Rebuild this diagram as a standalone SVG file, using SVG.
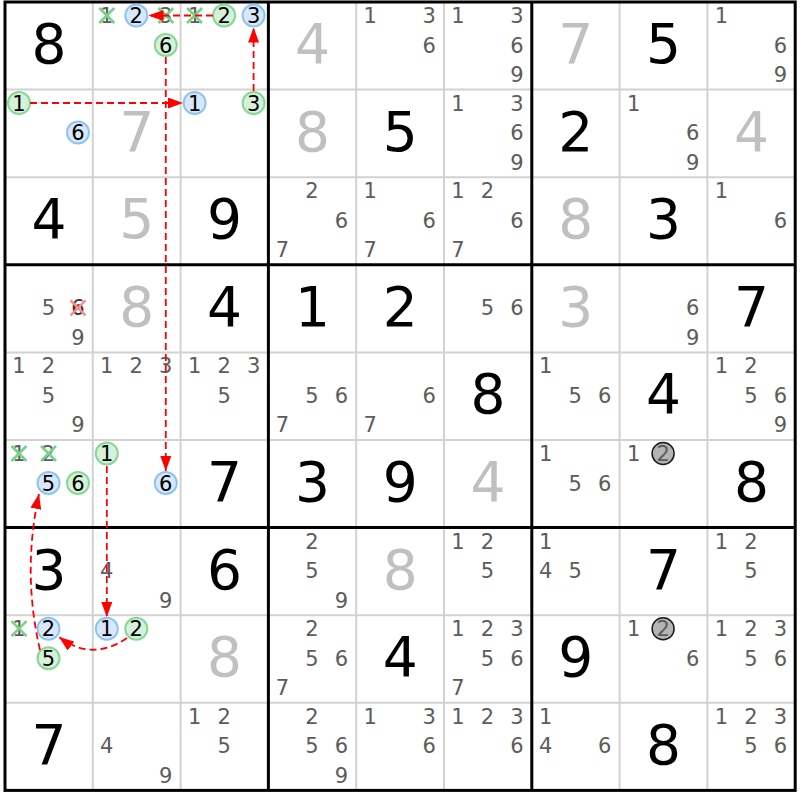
<svg xmlns="http://www.w3.org/2000/svg" xmlns:xlink="http://www.w3.org/1999/xlink" width="800" height="800" viewBox="0 0 800 800">
<style>
text { font-family: "DejaVu Sans", "Liberation Sans", sans-serif; text-anchor: middle; }
.g { font-size: 55px; fill: #000; }
.s { font-size: 55px; fill: #c0c0c0; }
.c { font-size: 21px; fill: #5c5c5c; }
.k { font-size: 21px; fill: #000; }
.cb { fill: #d8e8fa; stroke: #8ec3f2; stroke-width: 2; }
.cg { fill: #d5f1da; stroke: #86d894; stroke-width: 2; }
.cy { fill: #b4b4b4; stroke: #1a1a1a; stroke-width: 1.5; }
.xg { fill: none; stroke: #74d484; stroke-width: 2.5; }
.xr { fill: none; stroke: #ff8a8a; stroke-width: 2.5; }
.thin { stroke: #d2d2d2; stroke-width: 2; }
.thick { stroke: #000; stroke-width: 3; }
.link { fill: none; stroke: #ff0000; stroke-width: 1.8; stroke-dasharray: 7 4; marker-end: url(#ah); }
</style>
<defs>
<marker id="ah" markerUnits="userSpaceOnUse" markerWidth="15" markerHeight="11" refX="15" refY="5.5" orient="auto">
<path d="M0,0 L15,5.5 L0,11 z" fill="#ff0000"/>
</marker>
<path id="xm" d="M-7.5,-7.5 L7.5,7.5 M-7.5,7.5 L7.5,-7.5"/>
</defs>
<rect x="0" y="0" width="800" height="800" fill="#fff"/>
<g id="grid">
<line class="thin" x1="92.8" y1="2" x2="92.8" y2="790.4"/>
<line class="thin" x1="180.6" y1="2" x2="180.6" y2="790.4"/>
<line class="thin" x1="356.2" y1="2" x2="356.2" y2="790.4"/>
<line class="thin" x1="444" y1="2" x2="444" y2="790.4"/>
<line class="thin" x1="619.6" y1="2" x2="619.6" y2="790.4"/>
<line class="thin" x1="707.4" y1="2" x2="707.4" y2="790.4"/>
<line class="thin" x1="5" y1="89.6" x2="795.2" y2="89.6"/>
<line class="thin" x1="5" y1="177.2" x2="795.2" y2="177.2"/>
<line class="thin" x1="5" y1="352.4" x2="795.2" y2="352.4"/>
<line class="thin" x1="5" y1="440" x2="795.2" y2="440"/>
<line class="thin" x1="5" y1="615.2" x2="795.2" y2="615.2"/>
<line class="thin" x1="5" y1="702.8" x2="795.2" y2="702.8"/>
<line class="thick" x1="268.4" y1="2" x2="268.4" y2="790.4"/>
<line class="thick" x1="531.8" y1="2" x2="531.8" y2="790.4"/>
<line class="thick" x1="5" y1="264.8" x2="795.2" y2="264.8"/>
<line class="thick" x1="5" y1="527.6" x2="795.2" y2="527.6"/>
<rect x="5" y="2" width="790.2" height="788.4" fill="none" stroke="#000" stroke-width="3"/>
</g>
<g id="cells">
<!-- Row 1 -->
<g id="r1c1" transform="translate(5,2)"><text class="g" x="44" y="61">8</text></g>
<g id="r1c2" transform="translate(92.8,2)">
<text class="c" x="14" y="21">1</text><use href="#xm" class="xg" x="14" y="13.5"/>
<circle class="cb" cx="43.5" cy="13.5" r="11"/><text class="k" x="43.5" y="21">2</text>
<text class="c" x="73" y="21">3</text><use href="#xm" class="xg" x="73" y="13.5"/>
<circle class="cg" cx="73" cy="43" r="11"/><text class="k" x="73" y="50.5">6</text>
</g>
<g id="r1c3" transform="translate(180.6,2)">
<text class="c" x="14" y="21">1</text><use href="#xm" class="xg" x="14" y="13.5"/>
<circle class="cg" cx="43.5" cy="13.5" r="11"/><text class="k" x="43.5" y="21">2</text>
<circle class="cb" cx="73" cy="13.5" r="11"/><text class="k" x="73" y="21">3</text>
</g>
<g id="r1c4" transform="translate(268.4,2)"><text class="s" x="44" y="61">4</text></g>
<g id="r1c5" transform="translate(356.2,2)"><text class="c" x="14" y="21">1</text><text class="c" x="73" y="21">3</text><text class="c" x="73" y="50.5">6</text></g>
<g id="r1c6" transform="translate(444,2)"><text class="c" x="14" y="21">1</text><text class="c" x="73" y="21">3</text><text class="c" x="73" y="50.5">6</text><text class="c" x="73" y="80">9</text></g>
<g id="r1c7" transform="translate(531.8,2)"><text class="s" x="44" y="61">7</text></g>
<g id="r1c8" transform="translate(619.6,2)"><text class="g" x="44" y="61">5</text></g>
<g id="r1c9" transform="translate(707.4,2)"><text class="c" x="14" y="21">1</text><text class="c" x="73" y="50.5">6</text><text class="c" x="73" y="80">9</text></g>
<!-- Row 2 -->
<g id="r2c1" transform="translate(5,89.6)">
<circle class="cg" cx="14" cy="13.5" r="11"/><text class="k" x="14" y="21">1</text>
<circle class="cb" cx="73" cy="43" r="11"/><text class="k" x="73" y="50.5">6</text>
</g>
<g id="r2c2" transform="translate(92.8,89.6)"><text class="s" x="44" y="61">7</text></g>
<g id="r2c3" transform="translate(180.6,89.6)">
<circle class="cb" cx="14" cy="13.5" r="11"/><text class="k" x="14" y="21">1</text>
<circle class="cg" cx="73" cy="13.5" r="11"/><text class="k" x="73" y="21">3</text>
</g>
<g id="r2c4" transform="translate(268.4,89.6)"><text class="s" x="44" y="61">8</text></g>
<g id="r2c5" transform="translate(356.2,89.6)"><text class="g" x="44" y="61">5</text></g>
<g id="r2c6" transform="translate(444,89.6)"><text class="c" x="14" y="21">1</text><text class="c" x="73" y="21">3</text><text class="c" x="73" y="50.5">6</text><text class="c" x="73" y="80">9</text></g>
<g id="r2c7" transform="translate(531.8,89.6)"><text class="g" x="44" y="61">2</text></g>
<g id="r2c8" transform="translate(619.6,89.6)"><text class="c" x="14" y="21">1</text><text class="c" x="73" y="50.5">6</text><text class="c" x="73" y="80">9</text></g>
<g id="r2c9" transform="translate(707.4,89.6)"><text class="s" x="44" y="61">4</text></g>
<!-- Row 3 -->
<g id="r3c1" transform="translate(5,177.2)"><text class="g" x="44" y="61">4</text></g>
<g id="r3c2" transform="translate(92.8,177.2)"><text class="s" x="44" y="61">5</text></g>
<g id="r3c3" transform="translate(180.6,177.2)"><text class="g" x="44" y="61">9</text></g>
<g id="r3c4" transform="translate(268.4,177.2)"><text class="c" x="43.5" y="21">2</text><text class="c" x="73" y="50.5">6</text><text class="c" x="14" y="80">7</text></g>
<g id="r3c5" transform="translate(356.2,177.2)"><text class="c" x="14" y="21">1</text><text class="c" x="73" y="50.5">6</text><text class="c" x="14" y="80">7</text></g>
<g id="r3c6" transform="translate(444,177.2)"><text class="c" x="14" y="21">1</text><text class="c" x="43.5" y="21">2</text><text class="c" x="73" y="50.5">6</text><text class="c" x="14" y="80">7</text></g>
<g id="r3c7" transform="translate(531.8,177.2)"><text class="s" x="44" y="61">8</text></g>
<g id="r3c8" transform="translate(619.6,177.2)"><text class="g" x="44" y="61">3</text></g>
<g id="r3c9" transform="translate(707.4,177.2)"><text class="c" x="14" y="21">1</text><text class="c" x="73" y="50.5">6</text></g>
<!-- Row 4 -->
<g id="r4c1" transform="translate(5,264.8)">
<text class="c" x="43.5" y="50.5">5</text>
<text class="c" x="73" y="50.5" style="fill:#333">6</text><use href="#xm" class="xr" x="73" y="43"/>
<text class="c" x="73" y="80">9</text>
</g>
<g id="r4c2" transform="translate(92.8,264.8)"><text class="s" x="44" y="61">8</text></g>
<g id="r4c3" transform="translate(180.6,264.8)"><text class="g" x="44" y="61">4</text></g>
<g id="r4c4" transform="translate(268.4,264.8)"><text class="g" x="44" y="61">1</text></g>
<g id="r4c5" transform="translate(356.2,264.8)"><text class="g" x="44" y="61">2</text></g>
<g id="r4c6" transform="translate(444,264.8)"><text class="c" x="43.5" y="50.5">5</text><text class="c" x="73" y="50.5">6</text></g>
<g id="r4c7" transform="translate(531.8,264.8)"><text class="s" x="44" y="61">3</text></g>
<g id="r4c8" transform="translate(619.6,264.8)"><text class="c" x="73" y="50.5">6</text><text class="c" x="73" y="80">9</text></g>
<g id="r4c9" transform="translate(707.4,264.8)"><text class="g" x="44" y="61">7</text></g>
<!-- Row 5 -->
<g id="r5c1" transform="translate(5,352.4)"><text class="c" x="14" y="21">1</text><text class="c" x="43.5" y="21">2</text><text class="c" x="43.5" y="50.5">5</text><text class="c" x="73" y="80">9</text></g>
<g id="r5c2" transform="translate(92.8,352.4)"><text class="c" x="14" y="21">1</text><text class="c" x="43.5" y="21">2</text><text class="c" x="73" y="21">3</text></g>
<g id="r5c3" transform="translate(180.6,352.4)"><text class="c" x="14" y="21">1</text><text class="c" x="43.5" y="21">2</text><text class="c" x="73" y="21">3</text><text class="c" x="43.5" y="50.5">5</text></g>
<g id="r5c4" transform="translate(268.4,352.4)"><text class="c" x="43.5" y="50.5">5</text><text class="c" x="73" y="50.5">6</text><text class="c" x="14" y="80">7</text></g>
<g id="r5c5" transform="translate(356.2,352.4)"><text class="c" x="73" y="50.5">6</text><text class="c" x="14" y="80">7</text></g>
<g id="r5c6" transform="translate(444,352.4)"><text class="g" x="44" y="61">8</text></g>
<g id="r5c7" transform="translate(531.8,352.4)"><text class="c" x="14" y="21">1</text><text class="c" x="43.5" y="50.5">5</text><text class="c" x="73" y="50.5">6</text></g>
<g id="r5c8" transform="translate(619.6,352.4)"><text class="g" x="44" y="61">4</text></g>
<g id="r5c9" transform="translate(707.4,352.4)"><text class="c" x="14" y="21">1</text><text class="c" x="43.5" y="21">2</text><text class="c" x="43.5" y="50.5">5</text><text class="c" x="73" y="50.5">6</text><text class="c" x="73" y="80">9</text></g>
<!-- Row 6 -->
<g id="r6c1" transform="translate(5,440)">
<text class="c" x="14" y="21">1</text><use href="#xm" class="xg" x="14" y="13.5"/>
<text class="c" x="43.5" y="21">2</text><use href="#xm" class="xg" x="43.5" y="13.5"/>
<circle class="cb" cx="43.5" cy="43" r="11"/><text class="k" x="43.5" y="50.5">5</text>
<circle class="cg" cx="73" cy="43" r="11"/><text class="k" x="73" y="50.5">6</text>
</g>
<g id="r6c2" transform="translate(92.8,440)">
<circle class="cg" cx="14" cy="13.5" r="11"/><text class="k" x="14" y="21">1</text>
<circle class="cb" cx="73" cy="43" r="11"/><text class="k" x="73" y="50.5">6</text>
</g>
<g id="r6c3" transform="translate(180.6,440)"><text class="g" x="44" y="61">7</text></g>
<g id="r6c4" transform="translate(268.4,440)"><text class="g" x="44" y="61">3</text></g>
<g id="r6c5" transform="translate(356.2,440)"><text class="g" x="44" y="61">9</text></g>
<g id="r6c6" transform="translate(444,440)"><text class="s" x="44" y="61">4</text></g>
<g id="r6c7" transform="translate(531.8,440)"><text class="c" x="14" y="21">1</text><text class="c" x="43.5" y="50.5">5</text><text class="c" x="73" y="50.5">6</text></g>
<g id="r6c8" transform="translate(619.6,440)"><text class="c" x="14" y="21">1</text><circle class="cy" cx="43.5" cy="13.5" r="11"/><text class="c" x="43.5" y="21">2</text></g>
<g id="r6c9" transform="translate(707.4,440)"><text class="g" x="44" y="61">8</text></g>
<!-- Row 7 -->
<g id="r7c1" transform="translate(5,527.6)"><text class="g" x="44" y="61">3</text></g>
<g id="r7c2" transform="translate(92.8,527.6)"><text class="c" x="14" y="50.5">4</text><text class="c" x="73" y="80">9</text></g>
<g id="r7c3" transform="translate(180.6,527.6)"><text class="g" x="44" y="61">6</text></g>
<g id="r7c4" transform="translate(268.4,527.6)"><text class="c" x="43.5" y="21">2</text><text class="c" x="43.5" y="50.5">5</text><text class="c" x="73" y="80">9</text></g>
<g id="r7c5" transform="translate(356.2,527.6)"><text class="s" x="44" y="61">8</text></g>
<g id="r7c6" transform="translate(444,527.6)"><text class="c" x="14" y="21">1</text><text class="c" x="43.5" y="21">2</text><text class="c" x="43.5" y="50.5">5</text></g>
<g id="r7c7" transform="translate(531.8,527.6)"><text class="c" x="14" y="21">1</text><text class="c" x="14" y="50.5">4</text><text class="c" x="43.5" y="50.5">5</text></g>
<g id="r7c8" transform="translate(619.6,527.6)"><text class="g" x="44" y="61">7</text></g>
<g id="r7c9" transform="translate(707.4,527.6)"><text class="c" x="14" y="21">1</text><text class="c" x="43.5" y="21">2</text><text class="c" x="43.5" y="50.5">5</text></g>
<!-- Row 8 -->
<g id="r8c1" transform="translate(5,615.2)">
<text class="c" x="14" y="21">1</text><use href="#xm" class="xg" x="14" y="13.5"/>
<circle class="cb" cx="43.5" cy="13.5" r="11"/><text class="k" x="43.5" y="21">2</text>
<circle class="cg" cx="43.5" cy="43" r="11"/><text class="k" x="43.5" y="50.5">5</text>
</g>
<g id="r8c2" transform="translate(92.8,615.2)">
<circle class="cb" cx="14" cy="13.5" r="11"/><text class="k" x="14" y="21">1</text>
<circle class="cg" cx="43.5" cy="13.5" r="11"/><text class="k" x="43.5" y="21">2</text>
</g>
<g id="r8c3" transform="translate(180.6,615.2)"><text class="s" x="44" y="61">8</text></g>
<g id="r8c4" transform="translate(268.4,615.2)"><text class="c" x="43.5" y="21">2</text><text class="c" x="43.5" y="50.5">5</text><text class="c" x="73" y="50.5">6</text><text class="c" x="14" y="80">7</text></g>
<g id="r8c5" transform="translate(356.2,615.2)"><text class="g" x="44" y="61">4</text></g>
<g id="r8c6" transform="translate(444,615.2)"><text class="c" x="14" y="21">1</text><text class="c" x="43.5" y="21">2</text><text class="c" x="73" y="21">3</text><text class="c" x="43.5" y="50.5">5</text><text class="c" x="73" y="50.5">6</text><text class="c" x="14" y="80">7</text></g>
<g id="r8c7" transform="translate(531.8,615.2)"><text class="g" x="44" y="61">9</text></g>
<g id="r8c8" transform="translate(619.6,615.2)"><text class="c" x="14" y="21">1</text><circle class="cy" cx="43.5" cy="13.5" r="11"/><text class="c" x="43.5" y="21">2</text><text class="c" x="73" y="50.5">6</text></g>
<g id="r8c9" transform="translate(707.4,615.2)"><text class="c" x="14" y="21">1</text><text class="c" x="43.5" y="21">2</text><text class="c" x="73" y="21">3</text><text class="c" x="43.5" y="50.5">5</text><text class="c" x="73" y="50.5">6</text></g>
<!-- Row 9 -->
<g id="r9c1" transform="translate(5,702.8)"><text class="g" x="44" y="61">7</text></g>
<g id="r9c2" transform="translate(92.8,702.8)"><text class="c" x="14" y="50.5">4</text><text class="c" x="73" y="80">9</text></g>
<g id="r9c3" transform="translate(180.6,702.8)"><text class="c" x="14" y="21">1</text><text class="c" x="43.5" y="21">2</text><text class="c" x="43.5" y="50.5">5</text></g>
<g id="r9c4" transform="translate(268.4,702.8)"><text class="c" x="43.5" y="21">2</text><text class="c" x="43.5" y="50.5">5</text><text class="c" x="73" y="50.5">6</text><text class="c" x="73" y="80">9</text></g>
<g id="r9c5" transform="translate(356.2,702.8)"><text class="c" x="14" y="21">1</text><text class="c" x="73" y="21">3</text><text class="c" x="73" y="50.5">6</text></g>
<g id="r9c6" transform="translate(444,702.8)"><text class="c" x="14" y="21">1</text><text class="c" x="43.5" y="21">2</text><text class="c" x="73" y="21">3</text><text class="c" x="73" y="50.5">6</text></g>
<g id="r9c7" transform="translate(531.8,702.8)"><text class="c" x="14" y="21">1</text><text class="c" x="14" y="50.5">4</text><text class="c" x="73" y="50.5">6</text></g>
<g id="r9c8" transform="translate(619.6,702.8)"><text class="g" x="44" y="61">8</text></g>
<g id="r9c9" transform="translate(707.4,702.8)"><text class="c" x="14" y="21">1</text><text class="c" x="43.5" y="21">2</text><text class="c" x="73" y="21">3</text><text class="c" x="43.5" y="50.5">5</text><text class="c" x="73" y="50.5">6</text></g>
</g>
<g id="connectors">
<path class="link" d="M30,103 L183,103"/>
<path class="link" d="M253.6,91 L253.6,27.5"/>
<path class="link" d="M213,15.5 L148.5,15.5"/>
<path class="link" d="M165.8,57 L165.8,471"/>
<path class="link" d="M106.8,466 L106.8,617"/>
<path class="link" d="M127,638 Q92,662 59,637"/>
<path class="link" d="M40,650 Q22,572 39,494"/>
</g>
</svg>
